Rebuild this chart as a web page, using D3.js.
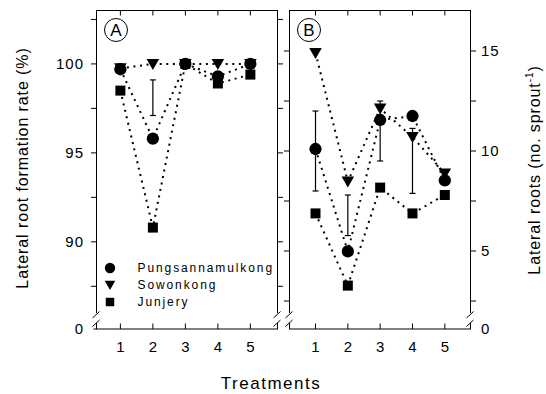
<!DOCTYPE html>
<html><head><meta charset="utf-8">
<script src="https://cdn.jsdelivr.net/npm/d3@7"></script>
<style>
body{margin:0;background:#fff}
svg{display:block}
text{font-family:Arial,"Liberation Sans",sans-serif;fill:#000}
</style>
</head><body>
<svg id="chart" width="546" height="394"></svg>
<script>
// Treatments on the x axis
const treatments = [1, 2, 3, 4, 5];
const seriesNames = ["Pungsannamulkong", "Sowonkong", "Junjery"];

// Panel A: lateral root formation rate (%)
const rateP = [99.7, 95.8, 100, 99.3, 100];
const rateS = [99.75, 100, 100, 100, 100];
const rateJ = [98.5, 90.8, 100, 98.9, 99.4];
const rateErr = [[2, 97.1, 99.1]];           // [treatment, low, high]
const rateTicks = [87.5, 90, 92.5, 95, 97.5, 100, 102.5];
const rateLabels = [90, 95, 100];

// Panel B: lateral roots (no. per sprout)
const rootsP = [10.1, 4.98, 11.55, 11.75, 8.53];
const rootsS = [14.9, 8.47, 12.13, 10.7, 8.88];
const rootsJ = [6.88, 3.27, 8.17, 6.88, 7.8];
const rootsErr = [[1, 8.0, 12.0], [2, 5.77, 7.8], [3, 9.5, 12.5], [4, 7.88, 11.13]];
const rootsTicks = [2.5, 5, 7.5, 10, 12.5, 15];
const rootsLabels = [5, 10, 15];

const svg = d3.select("#chart");
const yTop = 10, yBottom = 329, breakTop = 313, breakBot = 322;
const TK = 5.5;

const panels = [
  { key: "A", left: 96, right: 278, xdom: [0.25, 5.85], ydom: [86, 103.03],
    series: [rateP, rateS, rateJ], err: rateErr, ticks: rateTicks, labels: rateLabels, side: "left" },
  { key: "B", left: 289, right: 471, xdom: [0.18, 5.81], ydom: [1.9, 17.05],
    series: [rootsP, rootsS, rootsJ], err: rootsErr, ticks: rootsTicks, labels: rootsLabels, side: "right" }
];

const markerPaths = [
  d3.symbol(d3.symbolCircle, 118)(),
  "M-6.3,-5L6.3,-5L0,6Z",
  d3.symbol(d3.symbolSquare, 100)()
];
const legendPaths = [
  d3.symbol(d3.symbolCircle, 85)(),
  "M-5.3,-4.3L5.3,-4.3L0,5Z",
  d3.symbol(d3.symbolSquare, 72)()
];

function brokenVertical(g, x) {
  g.append("line").attr("x1", x).attr("x2", x).attr("y1", yTop).attr("y2", breakTop);
  g.append("line").attr("x1", x).attr("x2", x).attr("y1", breakBot + 1).attr("y2", yBottom);
  [breakTop + 1.5, breakBot + 1].forEach(y => {
    g.append("line").attr("x1", x - 4).attr("y1", y + 3.5).attr("x2", x + 3).attr("y2", y - 3);
  });
}

panels.forEach(p => {
  const x = d3.scaleLinear().domain(p.xdom).range([p.left, p.right]);
  const y = d3.scaleLinear().domain(p.ydom).range([breakTop, yTop]);
  const g = svg.append("g");
  const frame = g.append("g").attr("stroke", "#000").attr("stroke-width", 1).attr("fill", "none");

  // frame: top, bottom, broken sides
  frame.append("line").attr("x1", p.left).attr("x2", p.right).attr("y1", yTop + 0.5).attr("y2", yTop + 0.5);
  frame.append("line").attr("x1", p.left).attr("x2", p.right).attr("y1", yBottom).attr("y2", yBottom);
  brokenVertical(frame, p.left + 0.5);
  brokenVertical(frame, p.right - 0.5);

  // x ticks along top (down) and bottom (up)
  treatments.forEach(t => {
    frame.append("line").attr("x1", x(t)).attr("x2", x(t)).attr("y1", yTop).attr("y2", yTop + TK);
    frame.append("line").attr("x1", x(t)).attr("x2", x(t)).attr("y1", yBottom).attr("y2", yBottom - TK);
  });
  g.append("g").selectAll("text").data(treatments).join("text")
    .attr("x", d => x(d)).attr("y", 352).attr("text-anchor", "middle")
    .attr("font-size", 15).text(d => d);

  // value axis: outer side carries labels, inner side has inward ticks
  const outerX = p.side === "left" ? p.left + 0.5 : p.right - 0.5;
  const innerX = p.side === "left" ? p.right - 0.5 : p.left + 0.5;
  const dir = p.side === "left" ? -1 : 1;
  p.ticks.forEach(v => {
    frame.append("line").attr("x1", outerX).attr("x2", outerX + dir * TK).attr("y1", y(v)).attr("y2", y(v));
    frame.append("line").attr("x1", innerX).attr("x2", innerX - dir * TK).attr("y1", y(v)).attr("y2", y(v));
  });
  if (p.side === "left") {
    frame.append("line").attr("x1", outerX).attr("x2", outerX - 3).attr("y1", yBottom).attr("y2", yBottom);
  }
  const lab = g.append("g").attr("font-size", 15).attr("letter-spacing", 1)
    .attr("text-anchor", p.side === "left" ? "end" : "start");
  const lx = p.side === "left" ? p.left - 12 : p.right + 10;
  p.labels.forEach(v => {
    lab.append("text").attr("x", lx).attr("y", y(v)).attr("dy", "0.36em").text(v);
  });
  lab.append("text").attr("x", lx).attr("y", yBottom).attr("dy", "0.36em").text(0);

  // dotted connecting lines
  const line = d3.line().x((d, i) => x(treatments[i])).y(d => y(d));
  p.series.forEach(s => {
    g.append("path").attr("d", line(s)).attr("fill", "none").attr("stroke", "#000")
      .attr("stroke-width", 2).attr("stroke-dasharray", "2,4.6");
  });

  // error bars
  const eb = g.append("g").attr("stroke", "#000").attr("stroke-width", 1.2);
  p.err.forEach(([t, lo, hi]) => {
    eb.append("line").attr("x1", x(t)).attr("x2", x(t)).attr("y1", y(lo)).attr("y2", y(hi));
    [lo, hi].forEach(v => eb.append("line").attr("x1", x(t) - 3).attr("x2", x(t) + 3).attr("y1", y(v)).attr("y2", y(v)));
  });

  // markers
  p.series.forEach((s, k) => {
    g.append("g").selectAll("path").data(s).join("path")
      .attr("d", markerPaths[k]).attr("fill", "#000")
      .attr("transform", (d, i) => `translate(${x(treatments[i])},${y(d)})`);
  });

  // circled panel letter
  const cx = p.left + 20, cy = 30;
  g.append("circle").attr("cx", cx).attr("cy", cy).attr("r", 11.5).attr("fill", "none").attr("stroke", "#000");
  g.append("text").attr("x", cx).attr("y", cy + 6).attr("text-anchor", "middle").attr("font-size", 17).text(p.key);
});

// legend
const leg = svg.append("g");
seriesNames.forEach((n, k) => {
  const yy = 268 + k * 17;
  leg.append("path").attr("d", legendPaths[k]).attr("fill", "#000").attr("transform", `translate(110,${yy})`);
  leg.append("text").attr("x", 137.5).attr("y", yy).attr("dy", "0.36em")
    .attr("font-size", 12).attr("letter-spacing", 1.9).text(n);
});

// axis titles
svg.append("text").attr("transform", "translate(28,168) rotate(-90)")
  .attr("text-anchor", "middle").attr("font-size", 16).attr("letter-spacing", 0.9)
  .text("Lateral root formation rate (%)");
const rt = svg.append("text").attr("transform", "translate(540,170) rotate(-90)")
  .attr("text-anchor", "middle").attr("font-size", 16).attr("letter-spacing", 0.9);
rt.append("tspan").text("Lateral roots (no. sprout");
rt.append("tspan").attr("font-size", 10).attr("dy", -7).text("-1");
rt.append("tspan").attr("dy", 7).text(")");
svg.append("text").attr("x", 271).attr("y", 389).attr("text-anchor", "middle")
  .attr("font-size", 17).attr("letter-spacing", 1.5).text("Treatments");
</script>
</body></html>
